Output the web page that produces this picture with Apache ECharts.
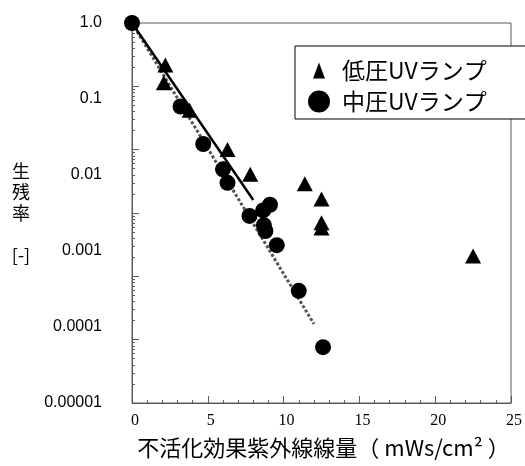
<!DOCTYPE html>
<html><head><meta charset="utf-8">
<script src="https://cdn.jsdelivr.net/npm/echarts@6/dist/echarts.min.js"></script>
<style>html,body{margin:0;padding:0;background:#fff}#c{width:525px;height:466px}</style>
</head><body><div id="c"></div>
<script>
// ---- data ----
const lowName = '低圧UVランプ';
const midName = '中圧UVランプ';
const lowDose = [2.2, 2.1, 3.8, 6.3, 7.8, 11.4, 12.5, 12.5, 12.5, 22.5];
const lowSurv = [0.217, 0.114, 0.042, 0.0101, 0.0041, 0.0029, 0.00167, 0.0007, 0.00058, 0.00021];
const midDose = [0, 3.2, 4.7, 6.0, 6.3, 7.75, 8.65, 9.1, 8.7, 8.8, 9.55, 11.0, 12.6];
const midSurv = [1, 0.048, 0.0123, 0.0049, 0.0030, 0.0009, 0.0011, 0.00135, 0.00064, 0.00052, 0.00031, 0.000059, 0.0000076];
const lowFitDose = [0, 8.0];
const lowFitSurv = [1, 0.0016];
const midFitDose = [0, 12.0];
const midFitSurv = [1, 0.0000177];
const xTickStep = 5;
const yTickLabels = ['1.0', '0.1', '0.01', '0.001', '0.0001', '0.00001'];
const yAxisTitle = '生\n残\n率\n\n[-]';
const xAxisTitle = '不活化効果紫外線線量（ mWs/cm² ）';

// minor log ticks (2..9 per decade)
const yMinorTicks = [];
for (let e = -6; e < 0; e++) for (let m = 2; m <= 9; m++) yMinorTicks.push(+(m * Math.pow(10, e)).toPrecision(3));

const zip = (a, b) => a.map((v, i) => [v, b[i]]);
const axisGray = '#5a5a5a';

const chart = echarts.init(document.getElementById('c'), null, {renderer: 'canvas'});
chart.setOption({
  animation: false,
  backgroundColor: '#fff',
  grid: {left: 132, right: 10, top: 23, bottom: 63, show: true, borderColor: axisGray, borderWidth: 1, backgroundColor: 'transparent'},
  xAxis: {
    type: 'value', min: 0, max: 25, interval: xTickStep,
    axisLine: {lineStyle: {color: axisGray, width: 1}},
    axisTick: {inside: true, length: 7, lineStyle: {color: axisGray}},
    minorTick: {show: true, splitNumber: 5, length: 3, lineStyle: {color: axisGray}},
    splitLine: {show: false},
    axisLabel: {fontFamily: 'Liberation Serif', fontSize: 16, color: '#000', margin: 10, padding: [0, 0, 0, 6]},
    name: xAxisTitle, nameLocation: 'middle', nameGap: 45,
    nameTextStyle: {fontFamily: 'Noto Sans CJK JP', fontSize: 22, color: '#000', align: 'center', verticalAlign: 'middle', padding: [0, 0, 0, 4]}
  },
  yAxis: [
    {
      type: 'log', min: 1e-6, max: 1, splitNumber: 6,
      axisLine: {show: true, lineStyle: {color: axisGray, width: 1}},
      axisTick: {show: true, inside: true, length: 7, lineStyle: {color: axisGray}},
      axisLabel: {show: false},
      splitLine: {show: false},
      name: yAxisTitle, nameLocation: 'middle', nameGap: 111, nameRotate: 0,
      nameTextStyle: {fontFamily: 'Noto Sans CJK JP', fontSize: 18, lineHeight: 21, color: '#000', align: 'center', verticalAlign: 'middle', padding: [12, 0, 0, 0]}
    },
    {
      type: 'log', min: 1e-6, max: 1, position: 'left',
      axisLine: {show: false},
      axisTick: {show: true, inside: true, length: 3, customValues: yMinorTicks, lineStyle: {color: axisGray}},
      axisLabel: {show: false},
      splitLine: {show: false}
    },
    {
      type: 'log', min: 1e-5, max: 1, position: 'left', splitNumber: 5,
      axisLine: {show: false},
      axisTick: {show: false},
      splitLine: {show: false},
      axisLabel: {
        fontFamily: 'Liberation Sans', fontSize: 16, color: '#000', margin: 30,
        formatter: v => yTickLabels[Math.round(-Math.log10(v))]
      }
    }
  ],
  legend: [
    {data: [lowName], left: 313, top: 59, padding: 0, icon: 'triangle', itemWidth: 12, itemHeight: 16, selectedMode: false,
     textStyle: {fontFamily: 'Noto Sans CJK JP', fontSize: 23, color: '#000', padding: [0, 0, 0, 12]}},
    {data: [midName], left: 308, top: 90, padding: 0, icon: 'circle', itemWidth: 22, itemHeight: 22, selectedMode: false,
     textStyle: {fontFamily: 'Noto Sans CJK JP', fontSize: 23, color: '#000', padding: [0, 0, 0, 7]}}
  ],
  graphic: [
    {type: 'rect', z: 3, shape: {x: 295, y: 46, width: 245, height: 73}, style: {fill: '#fff', stroke: '#000', lineWidth: 1}}
  ],
  series: [
    {type: 'line', data: zip(midFitDose, midFitSurv), symbol: 'none', silent: true, z: 1,
     lineStyle: {color: '#555', width: 3, type: [3, 2]}},
    {type: 'line', data: zip(lowFitDose, lowFitSurv), symbol: 'none', silent: true, z: 1,
     lineStyle: {color: '#000', width: 2.5}},
    {name: lowName, type: 'scatter', data: zip(lowDose, lowSurv), symbol: 'triangle', symbolSize: [16, 15], z: 2,
     itemStyle: {color: '#000', opacity: 1}},
    {name: midName, type: 'scatter', data: zip(midDose, midSurv), symbol: 'circle', symbolSize: 16, z: 3,
     itemStyle: {color: '#000', opacity: 1}}
  ]
});
</script></body></html>
